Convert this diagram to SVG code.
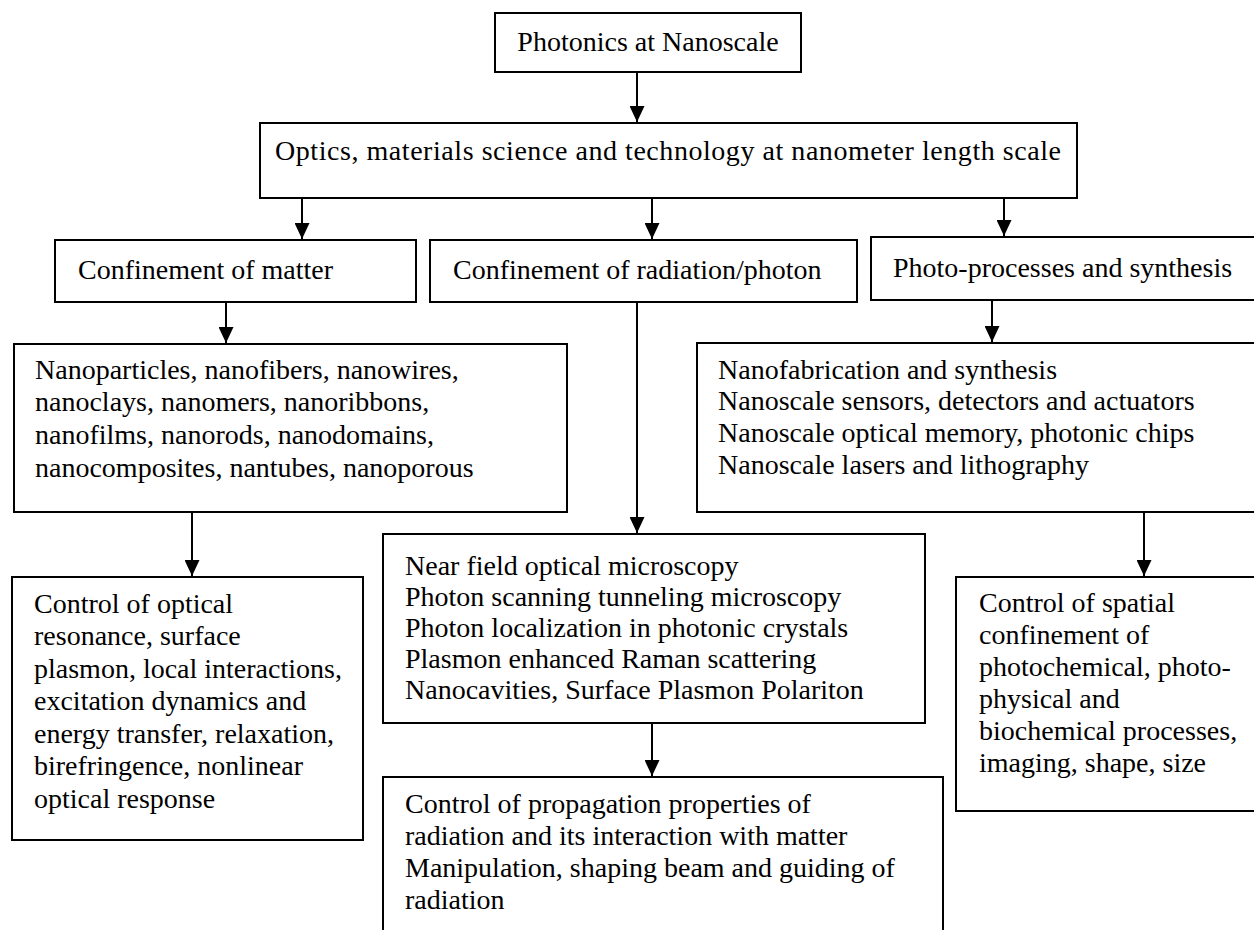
<svg xmlns="http://www.w3.org/2000/svg" width="1254" height="930" viewBox="0 0 1254 930">
<style>
.box{fill:#fff;stroke:#000;stroke-width:2}
.t{font-family:"Liberation Serif","Times New Roman",serif;font-size:28px;fill:#000}
.c{stroke:#000;stroke-width:2;fill:none}
</style>
<defs>
<marker id="ah" markerWidth="16" markerHeight="15" refX="16" refY="7.5" orient="auto" markerUnits="userSpaceOnUse" viewBox="0 0 16 15">
<path d="M0,0 L16,7.5 L0,15 Z" fill="#000"/>
</marker>
</defs>
<rect width="1254" height="930" fill="#fff"/>
<g id="connectors">
<line class="c" x1="637" y1="72" x2="637" y2="122" marker-end="url(#ah)"/>
<line class="c" x1="302" y1="198" x2="302" y2="239" marker-end="url(#ah)"/>
<line class="c" x1="652" y1="198" x2="652" y2="239" marker-end="url(#ah)"/>
<line class="c" x1="1004" y1="196" x2="1004" y2="236" marker-end="url(#ah)"/>
<line class="c" x1="226" y1="302" x2="226" y2="343" marker-end="url(#ah)"/>
<line class="c" x1="637" y1="302" x2="637" y2="533" marker-end="url(#ah)"/>
<line class="c" x1="992" y1="300" x2="992" y2="342" marker-end="url(#ah)"/>
<line class="c" x1="192" y1="512" x2="192" y2="576" marker-end="url(#ah)"/>
<line class="c" x1="652" y1="723" x2="652" y2="776" marker-end="url(#ah)"/>
<line class="c" x1="1144" y1="512" x2="1144" y2="576" marker-end="url(#ah)"/>
</g>
<g id="n1">
<rect class="box" x="495" y="13" width="306" height="59"/>
<text class="t" x="648" y="51" text-anchor="middle">Photonics at Nanoscale</text>
</g>
<g id="n2">
<rect class="box" x="260" y="123" width="817" height="75"/>
<text class="t" x="275" y="160" textLength="786" lengthAdjust="spacing">Optics, materials science and technology at nanometer length scale</text>
</g>
<g id="n3">
<rect class="box" x="55" y="240" width="361" height="62"/>
<text class="t" x="78" y="279">Confinement of matter</text>
</g>
<g id="n4">
<rect class="box" x="430" y="240" width="427" height="62"/>
<text class="t" x="453" y="279">Confinement of radiation/photon</text>
</g>
<g id="n5">
<rect class="box" x="871" y="237" width="400" height="63"/>
<text class="t" x="893" y="277">Photo-processes and synthesis</text>
</g>
<g id="n6">
<rect class="box" x="14" y="344" width="553" height="168"/>
<text class="t" x="35" y="379">Nanoparticles, nanofibers, nanowires,</text>
<text class="t" x="35" y="411">nanoclays, nanomers, nanoribbons,</text>
<text class="t" x="35" y="444">nanofilms, nanorods, nanodomains,</text>
<text class="t" x="35" y="477">nanocomposites, nantubes, nanoporous</text>
</g>
<g id="n7">
<rect class="box" x="697" y="343" width="580" height="169"/>
<text class="t" x="718" y="379">Nanofabrication and synthesis</text>
<text class="t" x="718" y="410">Nanoscale sensors, detectors and actuators</text>
<text class="t" x="718" y="442">Nanoscale optical memory, photonic chips</text>
<text class="t" x="718" y="474">Nanoscale lasers and lithography</text>
</g>
<g id="n8">
<rect class="box" x="12" y="577" width="351" height="263"/>
<text class="t" x="34" y="613">Control of optical</text>
<text class="t" x="34" y="645">resonance, surface</text>
<text class="t" x="34" y="678">plasmon, local interactions,</text>
<text class="t" x="34" y="710">excitation dynamics and</text>
<text class="t" x="34" y="743">energy transfer, relaxation,</text>
<text class="t" x="34" y="775">birefringence, nonlinear</text>
<text class="t" x="34" y="808">optical response</text>
</g>
<g id="n9">
<rect class="box" x="383" y="534" width="542" height="189"/>
<text class="t" x="405" y="575">Near field optical microscopy</text>
<text class="t" x="405" y="606">Photon scanning tunneling microscopy</text>
<text class="t" x="405" y="637">Photon localization in photonic crystals</text>
<text class="t" x="405" y="668">Plasmon enhanced Raman scattering</text>
<text class="t" x="405" y="699">Nanocavities, Surface Plasmon Polariton</text>
</g>
<g id="n10">
<rect class="box" x="383" y="777" width="560" height="170"/>
<text class="t" x="405" y="813">Control of propagation properties of</text>
<text class="t" x="405" y="845">radiation and its interaction with matter</text>
<text class="t" x="405" y="877">Manipulation, shaping beam and guiding of</text>
<text class="t" x="405" y="909">radiation</text>
</g>
<g id="n11">
<rect class="box" x="956" y="577" width="320" height="234"/>
<text class="t" x="979" y="612">Control of spatial</text>
<text class="t" x="979" y="644">confinement of</text>
<text class="t" x="979" y="676">photochemical, photo-</text>
<text class="t" x="979" y="708">physical and</text>
<text class="t" x="979" y="740">biochemical processes,</text>
<text class="t" x="979" y="772">imaging, shape, size</text>
</g>
</svg>
